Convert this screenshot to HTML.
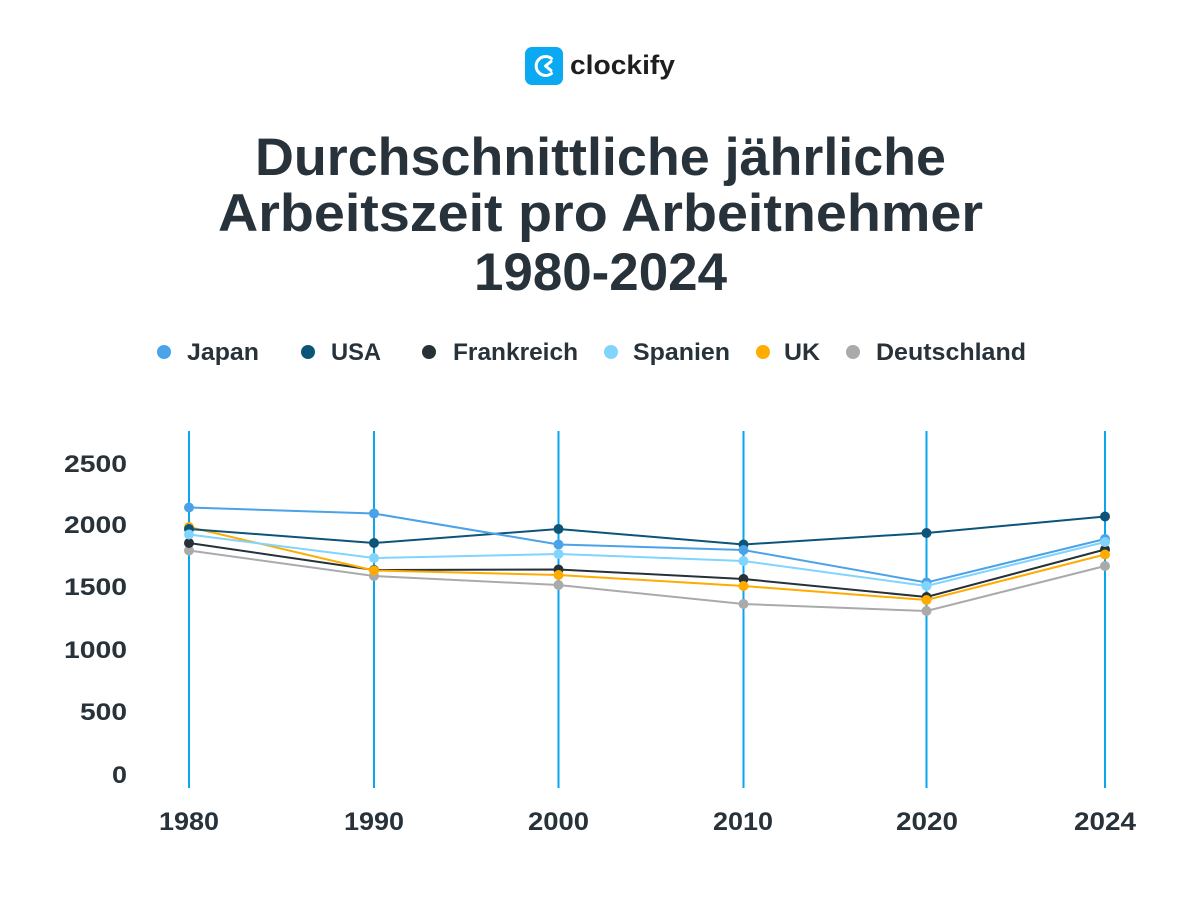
<!DOCTYPE html>
<html>
<head>
<meta charset="utf-8">
<style>
  html,body{margin:0;padding:0;background:#fff;}
  body{width:1200px;height:900px;overflow:hidden;}
  svg{display:block;}
  text{font-family:"Liberation Sans",Arial,sans-serif;}
</style>
</head>
<body>
<svg width="1200" height="900" viewBox="0 0 1200 900" xmlns="http://www.w3.org/2000/svg">
  <rect width="1200" height="900" fill="#ffffff"/>

  <!-- Logo -->
  <rect x="525" y="47" width="38" height="38" rx="7" fill="#0ba9f2"/>
  <path d="M551.5 58.5 A9.5 9.5 0 1 0 551.5 73.5" fill="none" stroke="#fff" stroke-width="3" stroke-linecap="round"/>
  <path d="M551 61.5 L545.5 66 L551 70.5" fill="none" stroke="#fff" stroke-width="3" stroke-linecap="round" stroke-linejoin="round"/>
  <text x="570" y="74" font-size="27" font-weight="bold" fill="#1e1e1e" textLength="105" lengthAdjust="spacingAndGlyphs">clockify</text>

  <!-- Title -->
  <g fill="#27323a" font-weight="bold" font-size="53">
    <text x="255" y="175" textLength="691" lengthAdjust="spacingAndGlyphs">Durchschnittliche jährliche</text>
    <text x="218" y="231" textLength="765" lengthAdjust="spacingAndGlyphs">Arbeitszeit pro Arbeitnehmer</text>
    <text x="474" y="290" textLength="253" lengthAdjust="spacingAndGlyphs">1980-2024</text>
  </g>

  <!-- Legend -->
  <g font-size="24" font-weight="bold" fill="#27323a">
    <circle cx="164" cy="352" r="7" fill="#4aa3e8"/>
    <text x="187" y="360" textLength="72" lengthAdjust="spacingAndGlyphs">Japan</text>
    <circle cx="308" cy="352" r="7" fill="#0d5479"/>
    <text x="331" y="360" textLength="50" lengthAdjust="spacingAndGlyphs">USA</text>
    <circle cx="429" cy="352" r="7" fill="#263238"/>
    <text x="453" y="360" textLength="125" lengthAdjust="spacingAndGlyphs">Frankreich</text>
    <circle cx="611" cy="352" r="7" fill="#80d4fd"/>
    <text x="633" y="360" textLength="97" lengthAdjust="spacingAndGlyphs">Spanien</text>
    <circle cx="763" cy="352" r="7" fill="#ffab00"/>
    <text x="784" y="360" textLength="36" lengthAdjust="spacingAndGlyphs">UK</text>
    <circle cx="853" cy="352" r="7" fill="#aaaaaa"/>
    <text x="876" y="360" textLength="150" lengthAdjust="spacingAndGlyphs">Deutschland</text>
  </g>

  <!-- Y axis labels -->
  <g font-size="24" font-weight="bold" fill="#27323a">
    <text x="64" y="472" textLength="63" lengthAdjust="spacingAndGlyphs">2500</text>
    <text x="64" y="533" textLength="63" lengthAdjust="spacingAndGlyphs">2000</text>
    <text x="64" y="595" textLength="63" lengthAdjust="spacingAndGlyphs">1500</text>
    <text x="64" y="658" textLength="63" lengthAdjust="spacingAndGlyphs">1000</text>
    <text x="80" y="720" textLength="47" lengthAdjust="spacingAndGlyphs">500</text>
    <text x="112" y="783" textLength="15" lengthAdjust="spacingAndGlyphs">0</text>
  </g>

  <!-- X axis labels -->
  <g font-size="25" font-weight="bold" fill="#27323a">
    <text x="159" y="830" textLength="60" lengthAdjust="spacingAndGlyphs">1980</text>
    <text x="344" y="830" textLength="60" lengthAdjust="spacingAndGlyphs">1990</text>
    <text x="528" y="830" textLength="61" lengthAdjust="spacingAndGlyphs">2000</text>
    <text x="713" y="830" textLength="60" lengthAdjust="spacingAndGlyphs">2010</text>
    <text x="896" y="830" textLength="62" lengthAdjust="spacingAndGlyphs">2020</text>
    <text x="1074" y="830" textLength="62" lengthAdjust="spacingAndGlyphs">2024</text>
  </g>

  <!-- Vertical lines -->
  <g stroke="#0aa5ef" stroke-width="2">
    <line x1="189" y1="431" x2="189" y2="788"/>
    <line x1="374" y1="431" x2="374" y2="788"/>
    <line x1="558.5" y1="431" x2="558.5" y2="788"/>
    <line x1="743.5" y1="431" x2="743.5" y2="788"/>
    <line x1="926.5" y1="431" x2="926.5" y2="788"/>
    <line x1="1105" y1="431" x2="1105" y2="788"/>
  </g>

  <!-- Series: Deutschland -->
  <g stroke="#aaaaaa" fill="#aaaaaa">
    <polyline fill="none" stroke-width="2" points="189,550.5 374,576 558.5,585 743.5,604 926.5,611 1105,566"/>
    <circle cx="189" cy="550.5" r="5" stroke="none"/>
    <circle cx="374" cy="576" r="5" stroke="none"/>
    <circle cx="558.5" cy="585" r="5" stroke="none"/>
    <circle cx="743.5" cy="604" r="5" stroke="none"/>
    <circle cx="926.5" cy="611" r="5" stroke="none"/>
    <circle cx="1105" cy="566" r="5" stroke="none"/>
  </g>
  <!-- Frankreich -->
  <g stroke="#263238" fill="#263238">
    <polyline fill="none" stroke-width="2" points="189,543 374,570 558.5,569.5 743.5,579 926.5,597 1105,549.5"/>
    <circle cx="189" cy="543" r="5" stroke="none"/>
    <circle cx="374" cy="570" r="5" stroke="none"/>
    <circle cx="558.5" cy="569.5" r="5" stroke="none"/>
    <circle cx="743.5" cy="579" r="5" stroke="none"/>
    <circle cx="926.5" cy="597" r="5" stroke="none"/>
    <circle cx="1105" cy="549.5" r="5" stroke="none"/>
  </g>
  <!-- UK -->
  <g stroke="#ffab00" fill="#ffab00">
    <polyline fill="none" stroke-width="2" points="189,527 374,570.5 558.5,575 743.5,586 926.5,600 1105,554.5"/>
    <circle cx="189" cy="527" r="5" stroke="none"/>
    <circle cx="374" cy="570.5" r="5" stroke="none"/>
    <circle cx="558.5" cy="575" r="5" stroke="none"/>
    <circle cx="743.5" cy="586" r="5" stroke="none"/>
    <circle cx="926.5" cy="600" r="5" stroke="none"/>
    <circle cx="1105" cy="554.5" r="5" stroke="none"/>
  </g>
  <!-- USA -->
  <g stroke="#0d5479" fill="#0d5479">
    <polyline fill="none" stroke-width="2" points="189,529 374,543 558.5,529 743.5,544.5 926.5,533 1105,516.5"/>
    <circle cx="189" cy="529" r="5" stroke="none"/>
    <circle cx="374" cy="543" r="5" stroke="none"/>
    <circle cx="558.5" cy="529" r="5" stroke="none"/>
    <circle cx="743.5" cy="544.5" r="5" stroke="none"/>
    <circle cx="926.5" cy="533" r="5" stroke="none"/>
    <circle cx="1105" cy="516.5" r="5" stroke="none"/>
  </g>
  <!-- Japan -->
  <g stroke="#4aa3e8" fill="#4aa3e8">
    <polyline fill="none" stroke-width="2" points="189,507.5 374,513.5 558.5,544.5 743.5,550 926.5,582.5 1105,539"/>
    <circle cx="189" cy="507.5" r="5" stroke="none"/>
    <circle cx="374" cy="513.5" r="5" stroke="none"/>
    <circle cx="558.5" cy="544.5" r="5" stroke="none"/>
    <circle cx="743.5" cy="550" r="5" stroke="none"/>
    <circle cx="926.5" cy="582.5" r="5" stroke="none"/>
    <circle cx="1105" cy="539" r="5" stroke="none"/>
  </g>
  <!-- Spanien -->
  <g stroke="#80d4fd" fill="#80d4fd">
    <polyline fill="none" stroke-width="2" points="189,534.5 374,558 558.5,554 743.5,561 926.5,586 1105,542"/>
    <circle cx="189" cy="534.5" r="5" stroke="none"/>
    <circle cx="374" cy="558" r="5" stroke="none"/>
    <circle cx="558.5" cy="554" r="5" stroke="none"/>
    <circle cx="743.5" cy="561" r="5" stroke="none"/>
    <circle cx="926.5" cy="586" r="5" stroke="none"/>
    <circle cx="1105" cy="542" r="5" stroke="none"/>
  </g>
</svg>
</body>
</html>
